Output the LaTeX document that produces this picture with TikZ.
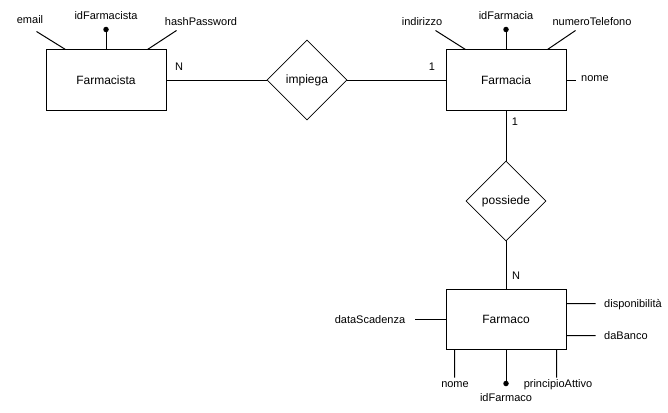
\documentclass[tikz,border=0pt]{standalone}
\usepackage{fontspec}
\setmainfont{Liberation Sans}
\usetikzlibrary{shapes.geometric}

\begin{document}
\begin{tikzpicture}[
    x=1pt, y=-1pt,
    entity/.style = {draw, line width=1pt, minimum width=120pt, minimum height=60pt, inner sep=0pt, font=\fontsize{12}{14}\selectfont},
    relation/.style = {draw, diamond, line width=.7pt, minimum width=80pt, minimum height=80pt, inner sep=0pt, font=\fontsize{12}{14}\selectfont},
    link/.style = {line width=1pt},
    attr/.style = {font=\fontsize{11}{13}\selectfont, inner sep=1pt},
    card/.style = {font=\fontsize{11}{13}\selectfont, inner sep=1pt},
    key/.style = {circle, fill, inner sep=0pt, minimum size=5.5pt}
  ]
    \useasboundingbox (0,0) rectangle (668,412);
    % entities and relations
    \node[entity] (Farmacista) at (106,80) {Farmacista};
    \node[entity] (Farmacia) at (506,80) {Farmacia};
    \node[entity] (Farmaco) at (506,319) {Farmaco};
    \node[relation] (impiega) at (307,80) {impiega};
    \node[relation] (possiede) at (506,201) {possiede};
    % define points
    \path
      (Farmacista.north west)
      +(20,0) coordinate(email-a)
      +(-9,-18) coordinate(email-b)
      (Farmacista.north east)
      +(-19,0) coordinate(hashPassword-a)
      +(10,-19) coordinate(hashPassword-b)
      (Farmacia.north west)
      +(20,0) coordinate(indirizzo-a)
      +(-10,-19) coordinate(indirizzo-b)
      (Farmacia.north east)
      +(-19,0) coordinate(numeroTelefono-a)
      +(9,-19) coordinate(numeroTelefono-b)
      (Farmacia.east)
      +(9,0) coordinate(nomeFarmacia-b)
      (Farmaco.west)
      +(-31,0) coordinate(dataScadenza-b)
      (Farmaco.north east)
      +(0,15) coordinate(disponibilita-a)
      +(29,15) coordinate(disponibilita-b)
      +(0,47) coordinate(daBanco-a)
      +(29,47) coordinate(daBanco-b)
      (Farmaco.south west)
      +(9,0) coordinate(nomeFarmaco-a)
      +(9,28) coordinate(nomeFarmaco-b)
      (Farmaco.south east)
      +(-10,0) coordinate(principioAttivo-a)
      +(-10,28) coordinate(principioAttivo-b)
    ;
    % keys
    \path
      (Farmacista.north) +(0,-20) node[key](idFarmacista-key){}
      (Farmacia.north) +(0,-20) node[key](idFarmacia-key){}
      (Farmaco.south) +(0,34) node[key](idFarmaco-key){}
    ;
    % draw lines
    \draw[link]
      (Farmacista) -- (impiega)
      (impiega) -- (Farmacia)
      (Farmacia) -- (possiede)
      (possiede) -- (Farmaco)
      (Farmacista.north) -- (idFarmacista-key)
      (Farmacia.north) -- (idFarmacia-key)
      (Farmaco.south) -- (idFarmaco-key)
      (Farmacia.east) -- (nomeFarmacia-b)
      (Farmaco.west) -- (dataScadenza-b)
    ;
    \draw[link]
      foreach \a in {email,hashPassword,indirizzo,numeroTelefono,disponibilita,daBanco,nomeFarmaco,principioAttivo}{
        (\a-a) -- (\a-b)
      };
    % labels
    \path[attr]
      (30,20) node(email){email}
      (106,16) node(idFarmacista){idFarmacista}
      (201,22) node(hashPassword){hashPassword}
      (422,22) node(indirizzo){indirizzo}
      (506,16) node(idFarmacia){idFarmacia}
      (592,22) node(numeroTelefono){numeroTelefono}
      (580,79) node[anchor=west](nomeFarmacia){nome}
      (370,320) node(dataScadenza){dataScadenza}
      (603,305) node[anchor=west](disponibilita){disponibilità}
      (603,336) node[anchor=west](daBanco){daBanco}
      (455,385) node(nomeFarmaco){nome}
      (506,398) node(idFarmaco){idFarmaco}
      (558,385) node(principioAttivo){principioAttivo}
    ;
    \path[card]
      (179,67) node(card-farmacista){N}
      (432,67) node(card-impiega){1}
      (515,122) node(card-possiede){1}
      (516,276) node(card-farmaco){N}
    ;
\end{tikzpicture}
\end{document}
